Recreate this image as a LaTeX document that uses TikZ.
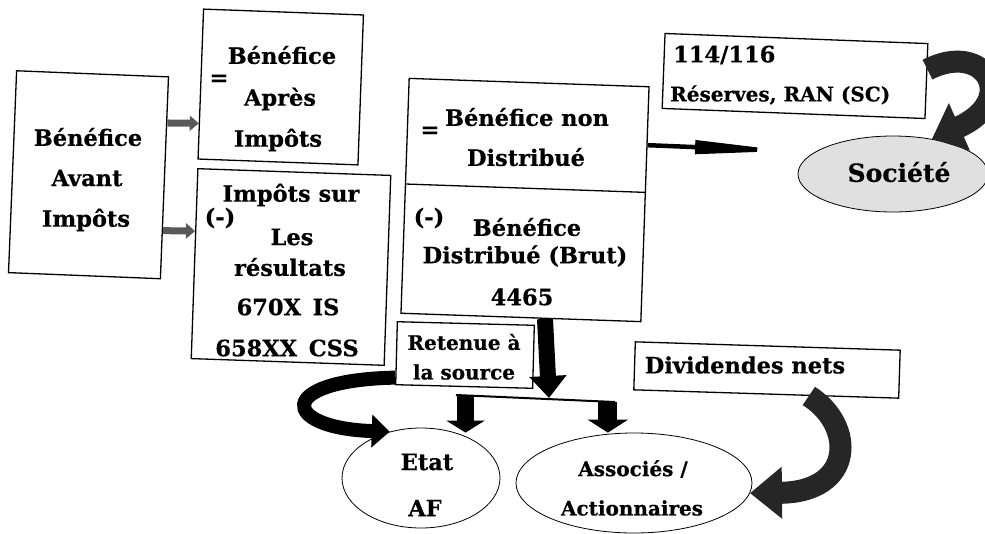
\documentclass[tikz,border=0pt]{standalone}
\usepackage{fontspec}
\setmainfont{DejaVu Serif}[BoldFeatures={FakeBold=0.5}]
\usetikzlibrary{arrows.meta,calc,shapes.geometric}
\begin{document}
\begin{tikzpicture}[x=1pt,y=-1pt,
  box/.style={draw, line width=1.3pt, rectangle, inner sep=0pt},
  ell/.style={draw, ellipse, line width=0.8pt, inner sep=0pt},
  t/.style={font=\fontsize{22.5}{24}\selectfont\bfseries, inner sep=0pt},
  ts/.style={font=\fontsize{20}{22}\selectfont\bfseries, inner sep=0pt},
]
\useasboundingbox (0,0) rectangle (985,533);

% boxes
\node[box, minimum width=152pt, minimum height=202pt, rotate=-2.3] (bai) at (88.5,174.75) {};
\node[box, minimum width=160pt, minimum height=150pt, rotate=-2.1] (apres) at (280.75,87) {};
\node[box, minimum width=193pt, minimum height=190pt, rotate=-2] (imp) at (291,267) {};
\node[box, minimum width=240pt, minimum height=235pt, rotate=-2] (mid) at (525,200) {};
\node[box, minimum width=263pt, minimum height=75pt, rotate=-2.2] (res) at (795,76) {};
\node[box, minimum width=137pt, minimum height=63pt, rotate=-1.5] (ret) at (465,355) {};
\node[box, minimum width=265pt, minimum height=48pt, rotate=-1.8] (div) at (767,370) {};
\draw[line width=1.3pt] ($(mid.north west)!0.45!(mid.south west)$) -- ($(mid.north east)!0.45!(mid.south east)$);

% ellipses
\node[ell, fill=black!12, minimum width=190pt, minimum height=76pt] (soc) at (893,174) {};
\node[ell, minimum width=158pt, minimum height=100pt] (etat) at (421,478) {};
\node[ell, minimum width=236pt, minimum height=100pt] (assoc) at (634,483) {};

% texts
\node[t] (t1) at (88,137) {Bénéfice};
\node[t] (t2) at (87,178) {Avant};
\node[t] (t3) at (86,220) {Impôts};

\node[t] (t4) at (282,55) {Bénéfice};
\node[t] (t5) at (219,80) {=};
\node[t] (t6) at (280,99) {Après};
\node[t] (t7) at (278,140) {Impôts};

\node[t] (t8) at (291,195) {Impôts sur};
\node[t] (t9) at (220,218) {(-)};
\node[t] (t10) at (292,237) {Les};
\node[t] (t11) at (290,267) {résultats};
\node[t] (t12) at (288,307) {670X\, IS};
\node[t] (t13) at (287,348) {658XX\, CSS};

\node[t] (t14) at (430,132) {=};
\node[t] (t15) at (527,117) {Bénéfice non};
\node[t] (t16) at (526,157) {Distribué};
\node[t] (t17) at (429,218) {(-)};
\node[t] (t18) at (527,227) {Bénéfice};
\node[t] (t19) at (525,256) {Distribué (Brut)};
\node[t] (t20) at (522,297) {4465};

\node[t, anchor=west] (t21) at (673,55) {114/116};
\node[ts, anchor=west] (t22) at (670,95) {Réserves, RAN (SC)};
\node[t, font=\fontsize{25}{27}\selectfont\bfseries] (t23) at (899,172) {Société};

\node[ts] (t24) at (464,342) {Retenue à};
\node[ts] (t25) at (464,372) {la source};

\node[t] (t26) at (427,462) {Etat};
\node[t] (t27) at (425,508) {AF};
\node[ts] (t28) at (633,469) {Associés /};
\node[ts] (t29) at (632,508) {Actionnaires};
\node[t] (t30) at (745,365) {Dividendes nets};

% small hatched arrows
\draw[line width=7pt, black!65, -{Triangle[length=9pt,width=15pt]}]
  ($(bai.north east)!0.23!(bai.south east)$) -- ($(apres.north west)!0.76!(apres.south west)$);
\draw[line width=7pt, black!65, -{Triangle[length=9pt,width=15pt]}]
  ($(bai.north east)!0.76!(bai.south east)$) -- ($(imp.north west)!0.33!(imp.south west)$);

% long thin arrow to the right
\coordinate (mt) at (790,151);
\draw[line width=4.5pt, -{Triangle[length=95pt,width=13pt]}]
  ($(mid.north east)!0.25!(mid.south east)$) -- (mt);

% big down arrow and split line
\coordinate (j) at (549,398);
\coordinate (jl) at (456,395);
\coordinate (jr) at (615,402);
\draw[line width=16pt, -{Triangle[length=22pt,width=36pt]}]
  ($(mid.south west)!0.6!(mid.south east)$) -- (j);
\draw[line width=2pt] (jl) -- (jr);
\coordinate (s1) at ($(jl)!0.06!(jr)$);
\coordinate (s2) at ($(jl)!0.955!(jr)$);
\draw[line width=17pt, -{Triangle[length=12pt,width=38pt]}]
  (s1) -- ($(s1 |- etat.north)+(0,5)$);
\draw[line width=19pt, -{Triangle[length=13pt,width=40pt]}]
  (s2) -- (s2 |- assoc.north);

% curved arrow retenue -> etat
\draw[line width=14pt, -{Triangle[length=18pt,width=32pt]}]
  ($(ret.north west)!0.88!(ret.south west)$) .. controls (275,380) and (280,428) .. (etat.124);

% curved arrow dividendes -> associes
\draw[line width=22pt, black!85, -{Triangle[length=32pt,width=50pt]}]
  ($(div.south west)!0.66!(div.south east)$) .. controls (855,425) and (855,492) .. (assoc.-5);

% curved arrow reserves -> societe
\draw[line width=22pt, black!85, -{Triangle[length=30pt,width=50pt]}]
  ($(res.north east)!0.35!(res.south east)$) .. controls (985,40) and (1020,100) .. (soc.42);
\end{tikzpicture}
\end{document}
